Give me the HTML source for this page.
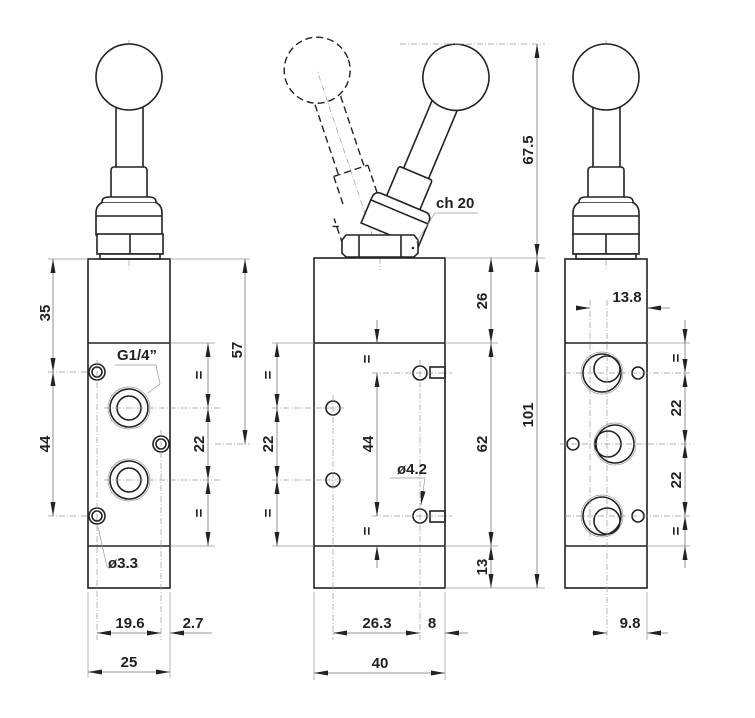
<!DOCTYPE html>
<html><head><meta charset="utf-8"><style>
html,body{margin:0;padding:0;background:#fff}
svg{display:block}
text{font-family:"Liberation Sans",Arial,sans-serif;font-weight:bold;font-size:15px;fill:#222}
.o{fill:none;stroke:#222;stroke-width:1.6}
.ow{fill:#fff;stroke:#222;stroke-width:1.6}
.t{fill:none;stroke:#999;stroke-width:0.7}
.d{fill:none;stroke:#777;stroke-width:0.8}
.c{fill:none;stroke:#999;stroke-width:0.7;stroke-dasharray:6 2 1 2}
.h{fill:none;stroke:#222;stroke-width:1.4;stroke-dasharray:7 4}
</style></head><body>
<svg width="755" height="718" viewBox="0 0 755 718" xmlns="http://www.w3.org/2000/svg">
<defs>
<marker id="a" viewBox="0 0 14 6" refX="14" refY="3" markerWidth="14" markerHeight="6" markerUnits="userSpaceOnUse" orient="auto-start-reverse"><path d="M0,0.5 L14,3 L0,5.5z" fill="#222"/></marker>
<g id="lever">
 <rect x="-13" y="-155" width="27" height="66" class="ow"/>
 <circle cx="0" cy="-181" r="33" class="ow"/>
 <rect x="-18" y="-91" width="36" height="38" rx="3" class="ow"/>
 <path d="M-33,-23 L-33,-45 Q-33,-53 -26,-56 L26,-56 Q33,-53 33,-45 L33,-23z" class="ow"/>
 <path d="M-27,-56 Q-27,-61 -20,-61 L20,-61 Q27,-61 27,-56" class="ow"/>
 <line x1="-33" y1="-42" x2="33" y2="-42" class="o" stroke-width="1"/>
</g>
<g id="mlever">
 <rect x="-13" y="-170" width="27" height="82" class="ow"/>
 <circle cx="0" cy="-196" r="33" class="ow"/>
 <rect x="-18" y="-92" width="36" height="34" rx="2" class="ow"/>
 <path d="M-31,-25 L-31,-52 Q-31,-60 -24,-60 L24,-60 Q31,-60 31,-52 L31,-25z" class="ow"/>
 <line x1="-31" y1="-50" x2="31" y2="-50" class="o" stroke-width="1"/>
</g>
</defs>

<!-- ===== LEFT VIEW ===== -->
<line x1="129" y1="40" x2="129" y2="270" class="c"/>
<use href="#lever" transform="translate(129,258)"/>
<rect x="97" y="234" width="66" height="20" class="ow"/>
<line x1="130" y1="234" x2="130" y2="254" class="o" stroke-width="1"/>
<rect x="100" y="254" width="60" height="5" class="ow"/>
<rect x="88" y="259" width="82" height="329" class="o"/>
<line x1="88" y1="343" x2="170" y2="343" class="o"/>
<line x1="88" y1="546" x2="170" y2="546" class="o"/>
<circle cx="97" cy="372" r="8" class="o"/><circle cx="97" cy="372" r="5" class="o" stroke-width="1.2"/>
<circle cx="161" cy="444" r="8" class="o"/><circle cx="161" cy="444" r="5" class="o" stroke-width="1.2"/>
<circle cx="97" cy="516" r="8" class="o"/><circle cx="97" cy="516" r="5" class="o" stroke-width="1.2"/>
<circle cx="129" cy="408" r="21" class="t"/><circle cx="129" cy="408" r="19" class="o"/><circle cx="129" cy="408" r="12" class="o"/>
<circle cx="129" cy="480" r="21" class="t"/><circle cx="129" cy="480" r="19" class="o"/><circle cx="129" cy="480" r="12" class="o"/>
<line x1="104" y1="408" x2="220" y2="408" class="c"/><line x1="104" y1="480" x2="220" y2="480" class="c"/>
<line x1="48" y1="372" x2="90" y2="372" class="c"/><line x1="48" y1="516" x2="90" y2="516" class="c"/>
<line x1="215" y1="444" x2="250" y2="444" class="c"/>
<line x1="97" y1="360" x2="97" y2="640" class="c"/><line x1="161" y1="430" x2="161" y2="640" class="c"/>
<line x1="48" y1="259" x2="88" y2="259" class="t"/><line x1="170" y1="259" x2="250" y2="259" class="t"/>
<line x1="170" y1="343" x2="215" y2="343" class="t"/><line x1="170" y1="546" x2="215" y2="546" class="t"/>
<line x1="88" y1="592" x2="88" y2="678" class="t"/><line x1="170" y1="592" x2="170" y2="678" class="t"/>
<line x1="53" y1="259" x2="53" y2="372" class="d" marker-start="url(#a)" marker-end="url(#a)"/>
<line x1="53" y1="372" x2="53" y2="516" class="d" marker-start="url(#a)" marker-end="url(#a)"/>
<text transform="translate(50,313) rotate(-90)" text-anchor="middle">35</text>
<text transform="translate(50,444) rotate(-90)" text-anchor="middle">44</text>
<line x1="245" y1="259" x2="245" y2="444" class="d" marker-start="url(#a)" marker-end="url(#a)"/>
<text transform="translate(242,350) rotate(-90)" text-anchor="middle">57</text>
<line x1="208" y1="343" x2="208" y2="408" class="d" marker-start="url(#a)" marker-end="url(#a)"/>
<line x1="208" y1="408" x2="208" y2="480" class="d" marker-start="url(#a)" marker-end="url(#a)"/>
<line x1="208" y1="480" x2="208" y2="546" class="d" marker-start="url(#a)" marker-end="url(#a)"/>
<text transform="translate(204,375) rotate(-90)" text-anchor="middle">=</text>
<text transform="translate(204,444) rotate(-90)" text-anchor="middle">22</text>
<text transform="translate(204,513) rotate(-90)" text-anchor="middle">=</text>
<text x="137" y="360" text-anchor="middle">G1/4”</text>
<path d="M115,365 L156,365 L160,384 L148,393" class="t"/>
<path d="M139,567 L107,567 L98,527" class="t"/>
<text x="108" y="568">ø3.3</text>
<line x1="97" y1="633" x2="161" y2="633" class="d" marker-start="url(#a)" marker-end="url(#a)"/>
<line x1="170" y1="633" x2="212" y2="633" class="d" marker-start="url(#a)"/>
<text x="130" y="628" text-anchor="middle">19.6</text>
<text x="193" y="628" text-anchor="middle">2.7</text>
<line x1="88" y1="672" x2="170" y2="672" class="d" marker-start="url(#a)" marker-end="url(#a)"/>
<text x="129" y="667" text-anchor="middle">25</text>

<!-- ===== MIDDLE VIEW ===== -->
<line x1="380" y1="258" x2="317" y2="70" class="c"/>
<line x1="380" y1="258" x2="456" y2="77" class="c"/>
<line x1="380" y1="225" x2="380" y2="270" class="c"/>
<g transform="translate(380,258) rotate(-18.5)">
 <circle cx="0" cy="-198" r="33" class="h"/>
 <path d="M-13,-166 L-13,-92 M14,-166 L14,-92" class="h"/>
 <path d="M-18,-92 L-18,-60 M18,-92 L18,-60 M-18,-92 L18,-92" class="h"/>
 <path d="M-31,-25 L-31,-52 M-35,-45 L-29,-43" class="h"/>
</g>
<g transform="translate(380,258) rotate(22.8)"><use href="#mlever"/></g>
<path d="M342,240 L346,235 L414,235 L418,240 L418,253 L414,257 L346,257 L342,253z" class="ow"/>
<line x1="359" y1="235" x2="359" y2="257" class="o" stroke-width="1"/>
<line x1="401" y1="235" x2="401" y2="257" class="o" stroke-width="1"/>
<circle cx="413" cy="248" r="1.3" fill="#222"/>
<line x1="400" y1="44" x2="545" y2="44" class="c"/>
<text x="436" y="208">ch 20</text>
<path d="M478,213 L435,213 L416,243" class="t"/>
<rect x="314" y="258" width="131" height="330" class="o"/>
<line x1="314" y1="343" x2="445" y2="343" class="o"/>
<line x1="314" y1="546" x2="445" y2="546" class="o"/>
<circle cx="420" cy="373" r="7" class="o"/><rect x="430" y="367" width="15" height="11" class="o"/>
<circle cx="420" cy="516" r="7" class="o"/><rect x="430" y="511" width="15" height="11" class="o"/>
<circle cx="333" cy="408" r="7" class="o"/><circle cx="333" cy="480" r="7" class="o"/>
<line x1="372" y1="373" x2="452" y2="373" class="c"/><line x1="372" y1="516" x2="452" y2="516" class="c"/>
<line x1="272" y1="408" x2="345" y2="408" class="c"/><line x1="272" y1="480" x2="345" y2="480" class="c"/>
<line x1="333" y1="395" x2="333" y2="640" class="c"/><line x1="420" y1="360" x2="420" y2="640" class="c"/>
<line x1="272" y1="343" x2="314" y2="343" class="t"/><line x1="272" y1="546" x2="314" y2="546" class="t"/>
<line x1="445" y1="258" x2="545" y2="258" class="t"/><line x1="445" y1="343" x2="498" y2="343" class="t"/>
<line x1="445" y1="546" x2="498" y2="546" class="t"/><line x1="445" y1="588" x2="545" y2="588" class="t"/>
<line x1="314" y1="592" x2="314" y2="680" class="t"/><line x1="445" y1="592" x2="445" y2="680" class="t"/>
<line x1="277" y1="343" x2="277" y2="408" class="d" marker-start="url(#a)" marker-end="url(#a)"/>
<line x1="277" y1="408" x2="277" y2="480" class="d" marker-start="url(#a)" marker-end="url(#a)"/>
<line x1="277" y1="480" x2="277" y2="546" class="d" marker-start="url(#a)" marker-end="url(#a)"/>
<text transform="translate(273,375) rotate(-90)" text-anchor="middle">=</text>
<text transform="translate(273,444) rotate(-90)" text-anchor="middle">22</text>
<text transform="translate(273,513) rotate(-90)" text-anchor="middle">=</text>
<line x1="377" y1="320" x2="377" y2="343" class="d" marker-end="url(#a)"/>
<line x1="377" y1="373" x2="377" y2="516" class="d" marker-start="url(#a)" marker-end="url(#a)"/>
<line x1="377" y1="568" x2="377" y2="546" class="d" marker-end="url(#a)"/>
<text transform="translate(373,444) rotate(-90)" text-anchor="middle">44</text>
<text transform="translate(372,359) rotate(-90)" text-anchor="middle">=</text>
<text transform="translate(372,531) rotate(-90)" text-anchor="middle">=</text>
<text x="412" y="474" text-anchor="middle">ø4.2</text>
<path d="M390,478 L425,478 L421,505" class="t" marker-end="url(#a)"/>
<line x1="491" y1="258" x2="491" y2="343" class="d" marker-start="url(#a)" marker-end="url(#a)"/>
<line x1="491" y1="343" x2="491" y2="546" class="d" marker-start="url(#a)" marker-end="url(#a)"/>
<line x1="491" y1="546" x2="491" y2="588" class="d" marker-start="url(#a)" marker-end="url(#a)"/>
<text transform="translate(487,301) rotate(-90)" text-anchor="middle">26</text>
<text transform="translate(487,444) rotate(-90)" text-anchor="middle">62</text>
<text transform="translate(487,567) rotate(-90)" text-anchor="middle">13</text>
<line x1="537" y1="44" x2="537" y2="258" class="d" marker-start="url(#a)" marker-end="url(#a)"/>
<line x1="537" y1="258" x2="537" y2="588" class="d" marker-start="url(#a)" marker-end="url(#a)"/>
<text transform="translate(533,150) rotate(-90)" text-anchor="middle">67.5</text>
<text transform="translate(533,415) rotate(-90)" text-anchor="middle">101</text>
<line x1="333" y1="633" x2="420" y2="633" class="d" marker-start="url(#a)" marker-end="url(#a)"/>
<line x1="445" y1="633" x2="468" y2="633" class="d" marker-start="url(#a)"/>
<text x="377" y="628" text-anchor="middle">26.3</text>
<text x="432" y="628" text-anchor="middle">8</text>
<line x1="314" y1="673" x2="445" y2="673" class="d" marker-start="url(#a)" marker-end="url(#a)"/>
<text x="380" y="668" text-anchor="middle">40</text>

<!-- ===== RIGHT VIEW ===== -->
<line x1="606" y1="40" x2="606" y2="270" class="c"/>
<use href="#lever" transform="translate(606,258)"/>
<rect x="573" y="234" width="66" height="20" class="ow"/>
<line x1="606" y1="234" x2="606" y2="254" class="o" stroke-width="1"/>
<rect x="576" y="254" width="60" height="5" class="ow"/>
<rect x="565" y="259" width="82" height="329" class="o"/>
<line x1="565" y1="343" x2="647" y2="343" class="o"/>
<line x1="565" y1="546" x2="647" y2="546" class="o"/>
<circle cx="602" cy="373" r="21" class="t"/><circle cx="602" cy="373" r="19" class="o"/><circle cx="607" cy="369" r="13" class="o"/>
<circle cx="615" cy="444" r="21" class="t"/><circle cx="615" cy="444" r="19" class="o"/><circle cx="608" cy="444" r="13" class="o"/>
<circle cx="602" cy="516" r="21" class="t"/><circle cx="602" cy="516" r="19" class="o"/><circle cx="607" cy="521" r="13" class="o"/>
<circle cx="638" cy="373" r="6" class="o"/><circle cx="573" cy="444" r="6" class="o"/><circle cx="638" cy="516" r="6" class="o"/>
<line x1="565" y1="373" x2="690" y2="373" class="c"/><line x1="560" y1="444" x2="690" y2="444" class="c"/><line x1="565" y1="516" x2="690" y2="516" class="c"/>
<line x1="607" y1="300" x2="607" y2="640" class="c"/><line x1="590" y1="300" x2="590" y2="540" class="c"/>
<line x1="647" y1="343" x2="690" y2="343" class="t"/><line x1="647" y1="546" x2="690" y2="546" class="t"/>
<line x1="647" y1="592" x2="647" y2="640" class="t"/>
<line x1="576" y1="308" x2="590" y2="308" class="d" marker-end="url(#a)"/>
<line x1="670" y1="308" x2="647" y2="308" class="d" marker-end="url(#a)"/>
<text x="627" y="302" text-anchor="middle">13.8</text>
<line x1="685" y1="320" x2="685" y2="343" class="d" marker-end="url(#a)"/>
<line x1="685" y1="343" x2="685" y2="373" class="d" marker-end="url(#a)"/>
<line x1="685" y1="373" x2="685" y2="444" class="d" marker-start="url(#a)" marker-end="url(#a)"/>
<line x1="685" y1="444" x2="685" y2="516" class="d" marker-start="url(#a)" marker-end="url(#a)"/>
<line x1="685" y1="546" x2="685" y2="516" class="d" marker-end="url(#a)"/>
<line x1="685" y1="568" x2="685" y2="546" class="d" marker-end="url(#a)"/>
<text transform="translate(681,358) rotate(-90)" text-anchor="middle">=</text>
<text transform="translate(681,408) rotate(-90)" text-anchor="middle">22</text>
<text transform="translate(681,480) rotate(-90)" text-anchor="middle">22</text>
<text transform="translate(681,531) rotate(-90)" text-anchor="middle">=</text>
<line x1="592" y1="633" x2="607" y2="633" class="d" marker-end="url(#a)"/>
<line x1="668" y1="633" x2="647" y2="633" class="d" marker-end="url(#a)"/>
<text x="630" y="628" text-anchor="middle">9.8</text>
</svg>
</body></html>
